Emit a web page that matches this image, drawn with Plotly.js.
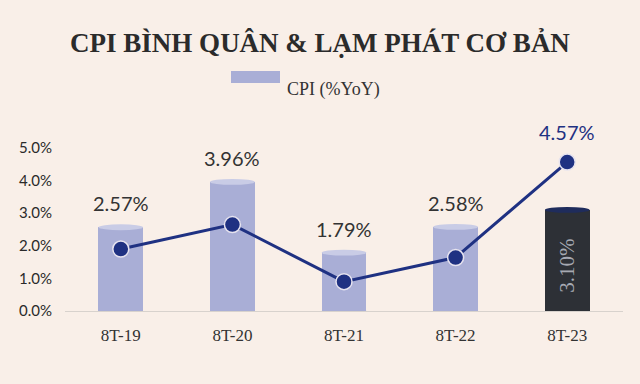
<!DOCTYPE html>
<html><head><meta charset="utf-8">
<script src="https://cdn.plot.ly/plotly-3.0.1.min.js"></script>
<style>html,body{margin:0;padding:0;background:#f9efe8;}</style>
</head><body><div id="chart" style="width:640px;height:384px;"></div>
<script>
const categories = ['8T-19','8T-20','8T-21','8T-22','8T-23'];
const cpiValues = [2.57, 3.96, 1.79, 2.58, 3.10];
const coreValues = [1.90, 2.65, 0.90, 1.64, 4.57];
const yTickVals = [0, 1, 2, 3, 4, 5];
const yTickText = ['0.0%','1.0%','2.0%','3.0%','4.0%','5.0%'];

const barColor = '#a9aed6', barTop = '#c9cce6';
const darkColor = '#2d3036', darkTop = '#1f2c5c';
const lineColor = '#1f3182';
const barW = 0.4, capH = 0.09;
const serif = 'Liberation Serif, serif';
const sans = 'Lato, Carlito, sans-serif';

const barColors = cpiValues.map((v,i)=> i===cpiValues.length-1 ? darkColor : barColor);

const traces = [
  {type:'bar', x:categories, y:cpiValues, width:barW, marker:{color:barColors, line:{width:0}},
   showlegend:false, hoverinfo:'skip'},
  {type:'scatter', mode:'lines+markers', x:categories, y:coreValues,
   line:{color:lineColor, width:3}, marker:{size:16, color:lineColor, line:{color:'#e6e3ef', width:1.5}},
   showlegend:false, cliponaxis:false}
];

const shapes = [];
cpiValues.forEach((v,i)=>{
  const last = i===cpiValues.length-1;
  shapes.push({type:'circle', xref:'x', yref:'y', x0:i-barW/2, x1:i+barW/2, y0:-capH, y1:capH,
    fillcolor: last?darkColor:barColor, line:{width:0}, layer:'below'});
  shapes.push({type:'circle', xref:'x', yref:'y', x0:i-barW/2, x1:i+barW/2, y0:v-capH, y1:v+capH,
    fillcolor: last?darkTop:barTop, line:{width:0}, layer:'above'});
});
// legend swatch
shapes.push({type:'rect', xref:'paper', yref:'paper', x0:(231-65)/558, x1:(280-65)/558,
  y0:(311-83)/163, y1:(311-71)/163, fillcolor:barColor, line:{width:0}});

const annotations = [];
cpiValues.forEach((v,i)=>{
  if(i<cpiValues.length-1){
    annotations.push({x:i, y:v, xref:'x', yref:'y', text:v.toFixed(2)+'%', showarrow:false,
      yshift:24, font:{family:sans, size:20, color:'#333333'}});
  } else {
    annotations.push({x:i, y:v/2, xref:'x', yref:'y', text:v.toFixed(2)+'%', showarrow:false,
      textangle:-90, yshift:-5, font:{family:serif, size:21, color:'#a6a9b2'}});
  }
});
const li = coreValues.length-1;
annotations.push({x:li, y:coreValues[li], xref:'x', yref:'y', text:coreValues[li].toFixed(2)+'%',
  showarrow:false, yshift:30, font:{family:sans, size:20, color:lineColor}});
annotations.push({xref:'paper', yref:'paper', x:(285-65)/558, y:(311-77)/163, xanchor:'left',
  text:'CPI (%YoY)', showarrow:false,
  font:{family:serif, size:18, color:'#333333'}});

const layout = {
  width:640, height:384,
  paper_bgcolor:'#f9efe8', plot_bgcolor:'#f9efe8',
  margin:{l:65, r:17, t:148, b:73},
  title:{text:'<b>CPI BÌNH QUÂN & LẠM PHÁT CƠ BẢN</b>', x:0.5, xanchor:'center', y:0.888, yanchor:'middle',
    font:{family:serif, size:27, color:'#2b2b2b'}},
  showlegend:false,
  xaxis:{type:'category', range:[-0.5,4.5], showgrid:false, zeroline:false, showline:false,
    ticks:'', tickfont:{family:serif, size:17, color:'#333333'},
    ticklabelstandoff:12, fixedrange:true},
  yaxis:{range:[0,5], tickvals:yTickVals, ticktext:yTickText, showgrid:false, zeroline:true,
    zerolinecolor:'#d8d2cd', zerolinewidth:1, showline:false, ticks:'',
    tickfont:{family:sans, size:15, color:'#2a2a2a'}, ticklabelstandoff:12, fixedrange:true},
  shapes:shapes, annotations:annotations, bargap:0
};
Plotly.newPlot('chart', traces, layout, {displayModeBar:false, staticPlot:true});
</script></body></html>
